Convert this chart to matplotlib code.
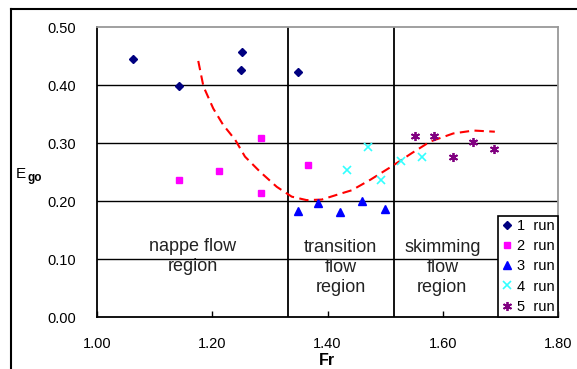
import matplotlib.pyplot as plt
from matplotlib.lines import Line2D

# --- Data ---------------------------------------------------------------------
fr_run1 = [1.063, 1.142, 1.251, 1.250, 1.349]
e_run1 = [0.445, 0.398, 0.458, 0.427, 0.423]

fr_run2 = [1.143, 1.212, 1.284, 1.284, 1.366]
e_run2 = [0.237, 0.253, 0.310, 0.214, 0.262]

fr_run3 = [1.349, 1.384, 1.422, 1.459, 1.500]
e_run3 = [0.183, 0.197, 0.182, 0.201, 0.186]

fr_run4 = [1.434, 1.471, 1.492, 1.527, 1.563]
e_run4 = [0.254, 0.294, 0.237, 0.270, 0.276]

fr_run5 = [1.551, 1.585, 1.617, 1.652, 1.688]
e_run5 = [0.313, 0.313, 0.276, 0.302, 0.290]

# trend curve
fr_trend = [1.176, 1.185, 1.202, 1.219, 1.240, 1.257, 1.283, 1.312, 1.338,
            1.364, 1.390, 1.422, 1.442, 1.474, 1.511, 1.546, 1.578, 1.618,
            1.653, 1.690]
e_trend = [0.442, 0.398, 0.360, 0.332, 0.306, 0.277, 0.251, 0.225, 0.208,
           0.202, 0.203, 0.213, 0.219, 0.237, 0.260, 0.283, 0.303, 0.317,
           0.322, 0.320]

region_bounds = [1.332, 1.515]
x_ticks = [1.00, 1.20, 1.40, 1.60, 1.80]
y_ticks = [0.00, 0.10, 0.20, 0.30, 0.40, 0.50]

# --- Plot ---------------------------------------------------------------------
plt.rcParams["font.family"] = ["Liberation Sans", "DejaVu Sans"]

W, H = 577, 369
fig = plt.figure(figsize=(W / 100, H / 100), dpi=100)
ax = fig.add_axes([96.7 / W, 1 - 317.3 / H, (558.3 - 96.7) / W, (317.3 - 27.3) / H])

ax.set_xlim(1.0, 1.8)
ax.set_ylim(0.0, 0.5)

for y in y_ticks[1:-1]:
    ax.axhline(y, color="black", lw=1.0, zorder=1)
for x in region_bounds:
    ax.axvline(x, color="black", lw=1.3, zorder=1)

ax.plot(fr_trend, e_trend, color="red", lw=1.5, dashes=(4.5, 2.6), zorder=2)

ax.plot(fr_run1, e_run1, "D", color="#000080", ms=4, ls="none", label="1  run", zorder=3)
ax.plot(fr_run2, e_run2, "s", color="#ff00ff", ms=5, ls="none", label="2  run", zorder=3)
ax.plot(fr_run3, e_run3, "^", color="#0000ff", ms=5.5, ls="none", label="3  run", zorder=3)
ax.plot(fr_run4, e_run4, "x", color="#33ffff", ms=6, mew=1.2, ls="none", label="4  run", zorder=3)
ax.plot(fr_run5, e_run5, marker=(6, 2, 0), color="#800080", ms=6.5, mew=1.3,
        ls="none", label="5  run", zorder=3)

text_kw = dict(ha="center", va="center", fontsize=13, color="#222222", linespacing=1.2)
ax.text(1.167, 0.105, "nappe flow\nregion", **text_kw)
ax.text(1.423, 0.086, "transition\nflow\nregion", **text_kw)
ax.text(1.599, 0.086, "skimming\nflow\nregion", **text_kw)

ax.set_xticks(x_ticks)
ax.set_xticklabels([f"{v:.2f}" for v in x_ticks])
ax.set_yticks(y_ticks)
ax.set_yticklabels([f"{v:.2f}" for v in y_ticks])
ax.tick_params(axis="x", direction="in", length=4, width=1, pad=14, labelsize=10.5)
ax.tick_params(axis="y", direction="in", length=0, pad=15, labelsize=10.5)

for side in ["left", "bottom"]:
    ax.spines[side].set_color("black")
    ax.spines[side].set_linewidth(1.3)
for side in ["top", "right"]:
    ax.spines[side].set_color("#999999")
    ax.spines[side].set_linewidth(1.3)

leg = ax.legend(loc="lower right", borderaxespad=0, fancybox=False, framealpha=1,
                edgecolor="black", fontsize=10.5, handlelength=0.7,
                handletextpad=0.35, labelspacing=0.42, borderpad=0.25)
leg.get_frame().set_linewidth(1.2)

# axis titles
fig.text(16 / W, 1 - 178 / H, "E", fontsize=11, ha="left", va="baseline")
fig.text(27 / W, 1 - 181 / H, "go", fontsize=8.5, fontweight="bold",
         ha="left", va="baseline")
fig.text(327 / W, 1 - 365 / H, "Fr", fontsize=11.5, fontweight="bold",
         ha="center", va="baseline")

# outer chart frame
fig.add_artist(Line2D([11.5 / W, 11.5 / W], [0, 1 - 9 / H], color="black", lw=1.5,
                      transform=fig.transFigure))
fig.add_artist(Line2D([11.5 / W, 1], [1 - 9 / H, 1 - 9 / H], color="black", lw=1.5,
                      transform=fig.transFigure))

fig.savefig("out.png", dpi=100)
